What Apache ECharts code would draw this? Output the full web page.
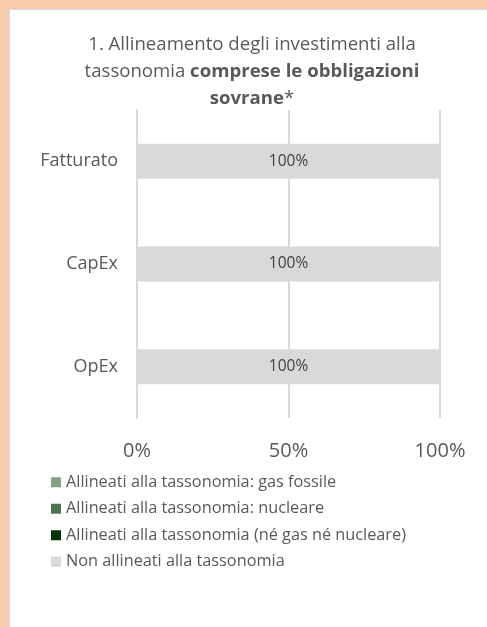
<!DOCTYPE html>
<html>
<head>
<meta charset="utf-8">
<script src="https://cdn.jsdelivr.net/npm/echarts@6/dist/echarts.min.js"></script>
<style>
  html, body { margin: 0; padding: 0; background: #F8CBAD; }
  #frame { position: absolute; left: 9px; top: 9px; width: 477px; height: 617px;
           background: #fff; border-left: 1px solid #D5DBDF; border-top: 1px solid #D5DBDF; }
  #chart { width: 477px; height: 617px; }
</style>
</head>
<body>
<div id="frame"><div id="chart"></div></div>
<script>
const categories = ['Fatturato', 'CapEx', 'OpEx']
const seriesNames = [
  'Allineati alla tassonomia: gas fossile',
  'Allineati alla tassonomia: nucleare',
  'Allineati alla tassonomia (né gas né nucleare)',
  'Non allineati alla tassonomia'
]
const gasFossile = [0, 0, 0]
const nucleare = [0, 0, 0]
const altriAllineati = [0, 0, 0]
const nonAllineati = [100, 100, 100]
const xTicks = [0, 50, 100]

const colors = ['#84A083', '#4F7352', '#00330A', '#D9D9D9']
const font = 'Open Sans'
const textColor = '#595959'

const chart = echarts.init(document.getElementById('chart'))

const values = [gasFossile, nucleare, altriAllineati, nonAllineati]
const series = seriesNames.map((name, i) => ({
  name, type: 'bar', stack: 'tot', data: values[i],
  barWidth: 35,
  itemStyle: { color: colors[i] },
  label: {
    show: i === 3, position: 'inside', formatter: p => p.value + '%',
    fontFamily: font, fontSize: 15.5, color: '#404040'
  }
}))

chart.setOption({
  animation: false,
  title: {
    text: '1. Allineamento degli investimenti alla\ntassonomia {b|comprese le obbligazioni}\n{b|sovrane}*',
    left: 242, top: 21, textAlign: 'center', padding: 0,
    textStyle: {
      fontFamily: font, fontSize: 18.6, fontWeight: 'normal', color: textColor, lineHeight: 27,
      rich: { b: { fontFamily: font, fontSize: 18.6, fontWeight: 'bold', color: textColor, lineHeight: 27 } }
    }
  },
  grid: { left: 127, top: 100, width: 303, height: 308, containLabel: false },
  xAxis: {
    type: 'value', min: 0, max: 100, interval: 50,
    axisLine: { show: false }, axisTick: { show: false },
    splitLine: { lineStyle: { color: '#D9D9D9', width: 2 } },
    axisLabel: { formatter: v => xTicks.includes(v) ? v + '%' : '', fontFamily: font, fontSize: 20, color: textColor, margin: 23 }
  },
  yAxis: {
    type: 'category', data: categories, inverse: true,
    axisLine: { lineStyle: { color: '#D9D9D9', width: 2 } },
    axisTick: { length: 7, lineStyle: { color: '#D9D9D9', width: 1 } },
    axisLabel: { fontFamily: font, fontSize: 18, color: textColor, margin: 19 }
  },
  legend: {
    orient: 'vertical', left: 41, top: 464, padding: 0,
    itemWidth: 10, itemHeight: 10, itemGap: 10,
    icon: 'rect',
    textStyle: { fontFamily: font, fontSize: 16.3, lineHeight: 16.5, color: textColor, padding: [0, 0, 0, 0] },
    data: seriesNames
  },
  series
})
</script>
</body>
</html>
